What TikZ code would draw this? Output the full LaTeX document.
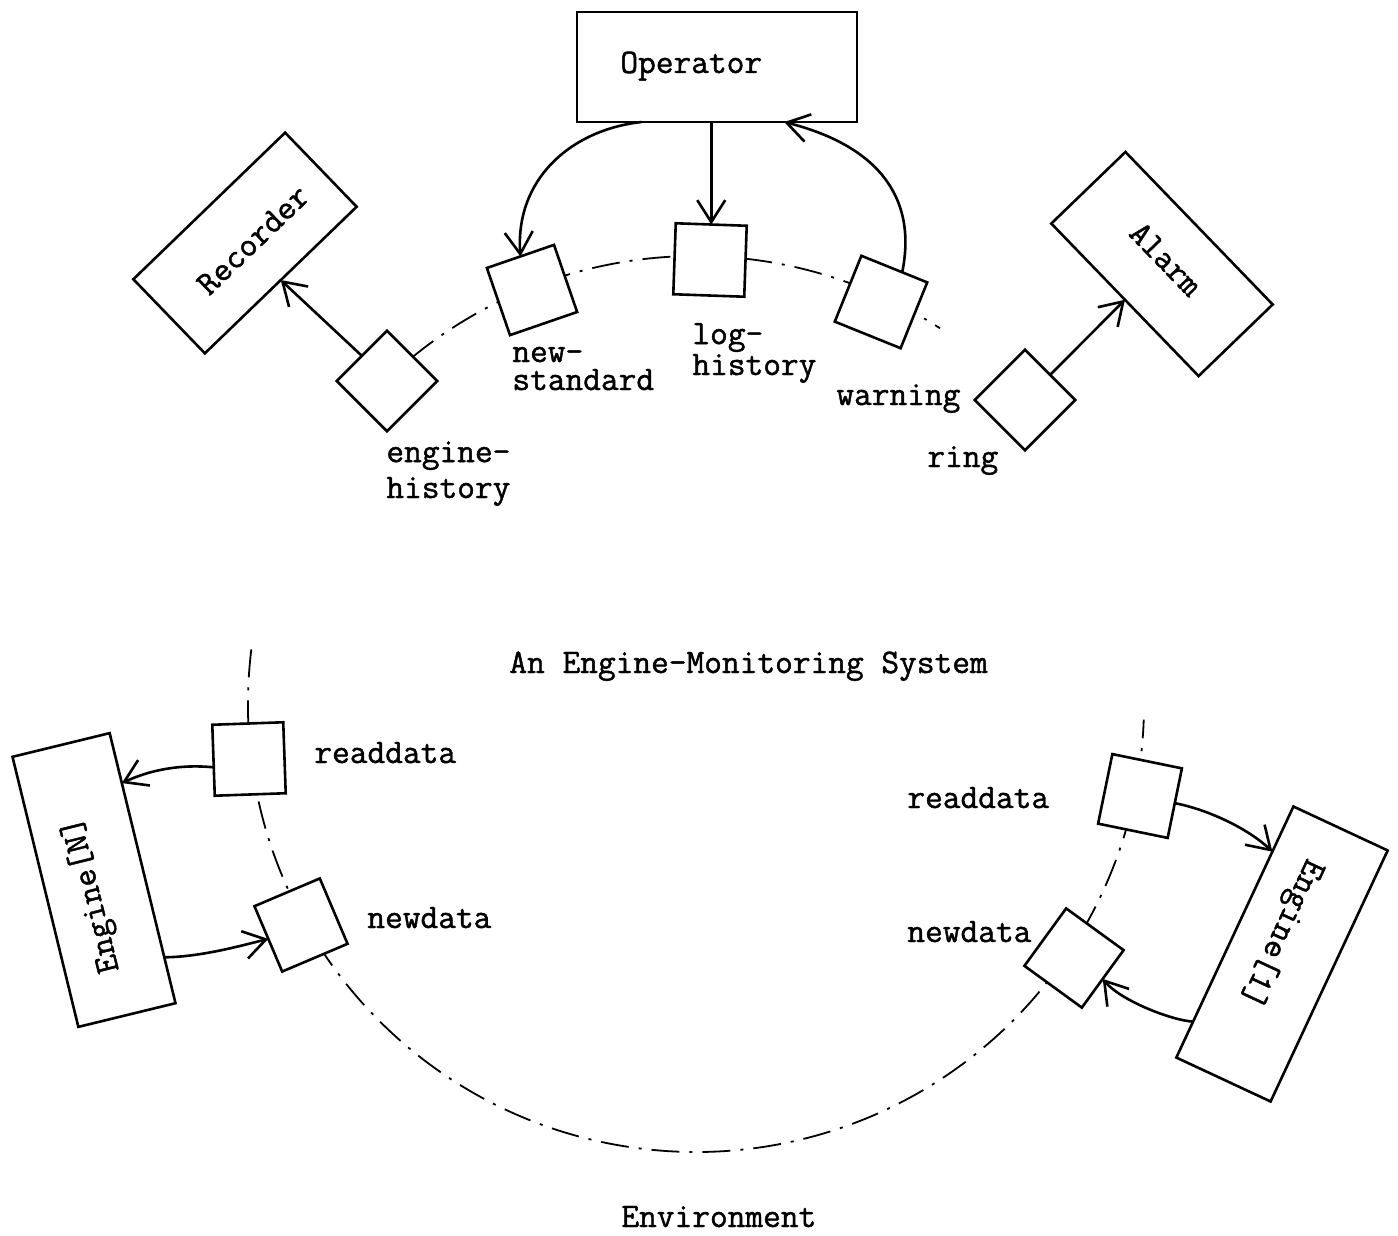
\documentclass[tikz,border=0pt]{standalone}
\usepackage{fontspec}
\newfontfamily\tw[FakeBold=1.3]{Latin Modern Mono}
\usetikzlibrary{arrows.meta,calc}
\begin{document}
\begin{tikzpicture}[x=0.5pt,y=-0.5pt,
  box/.style={draw, line width=1.3pt, inner sep=0pt, outer sep=0pt, fill=white},
  port/.style={box, minimum size=35.5pt},
  txt/.style={font=\tw\fontsize{17.2}{14}\selectfont, inner sep=0pt, align=left},
  lbl/.style={txt, anchor=base west},
  arr/.style={line width=1.3pt, -{Straight Barb[length=11pt,width=14pt,line width=1.3pt]}},
  boundary/.style={line width=0.9pt, dash pattern=on 14pt off 5pt on 1.5pt off 5pt}
]
\useasboundingbox (0,0) rectangle (1398,1236);

% the boundary circle that carries all ports
\coordinate (ctr) at (696,704);
\draw[boundary] (ctr) ++(136:224pt) arc[start angle=136, end angle=57, radius=224pt];
\draw[boundary] (ctr) ++(173:224pt) arc[start angle=173, end angle=358, radius=224pt];

% processes
\node[box, minimum width=140pt, minimum height=55pt] (op) at (717,67) {};
\node[box, minimum width=105.5pt, minimum height=51.5pt, rotate=44] (rec) at (245,243) {};
\node[box, minimum width=106pt, minimum height=51.5pt, rotate=-46] (alm) at (1162,264) {};
\node[box, minimum width=139pt, minimum height=50pt, rotate=103.7] (engN) at (94,880) {};
\node[box, minimum width=138.5pt, minimum height=52pt, rotate=-115] (eng1) at (1282,954) {};

\node[lbl] (opT) at (620,73) {Operator};
\node[txt, rotate=44] (recT) at (253,240) {Recorder};
\node[txt, rotate=-46] (almT) at (1166,259) {Alarm};
\node[txt, rotate=104] (engNT) at (92,895) {Engine[N]};
\node[txt, rotate=-115] (eng1T) at (1281,933) {Engine[1]};

% ports on the boundary
\node[port, rotate=45] (eh) at (387,381) {};
\node[port, rotate=19] (ns) at (532,290) {};
\node[port, rotate=-2] (lh) at (710,260) {};
\node[port, rotate=-22] (warn) at (881,302) {};
\node[port, rotate=45] (ring) at (1025,400) {};
\node[port, rotate=2] (rdN) at (249,759) {};
\node[port, rotate=23] (ndN) at (301,925) {};
\node[port, rotate=-11.6] (rd1) at (1140,796) {};
\node[port, rotate=-36] (nd1) at (1074,958) {};

% port names (base anchor sits on the last line)
\node[lbl] (ehT) at (386,498) {engine-\\[2.5pt]history};
\node[lbl] (nsT) at (512,390) {new-\\standard};
\node[lbl] (lhT) at (692,375) {log-\\history};
\node[lbl] (warnT) at (836,405) {warning};
\node[lbl] (ringT) at (927,467) {ring};
\node[lbl] (rdNT) at (314,763) {readdata};
\node[lbl] (ndNT) at (367,928) {newdata};
\node[lbl] (rd1T) at (907,808) {readdata};
\node[lbl] (nd1T) at (907,942) {newdata};

% captions
\node[lbl] (title) at (509,673) {An Engine-Monitoring System};
\node[lbl] (env) at (621,1227) {Environment};

% flows
\draw[arr] (eh.north) -- (rec.south);
\draw[arr] ($(op.south west)!0.23!(op.south east)$) .. controls (570,130) and (515,180) .. (ns.north);
\draw[arr] (lh.north |- op.south) -- (lh.north);
\draw[arr] ($(warn.north west)!0.62!(warn.north east)$) .. controls (918,195) and (875,145) .. ($(op.south west)!0.74!(op.south east)$);
\draw[arr] (ring.east) -- (alm.south);
\draw[arr] ($(rdN.south west)!0.4!(rdN.north west)$) .. controls (180,764) and (150,770) .. ($(engN.south east)!0.185!(engN.south west)$);
\draw[arr] ($(engN.south east)!0.83!(engN.south west)$) .. controls (200,957) and (240,946) .. (ndN.west);
\draw[arr] (rd1.east) .. controls (1210,810) and (1250,830) .. ($(eng1.south west)!0.18!(eng1.south east)$);
\draw[arr] ($(eng1.south west)!0.857!(eng1.south east)$) .. controls (1170,1020) and (1120,1000) .. (nd1.east);
\end{tikzpicture}
\end{document}
